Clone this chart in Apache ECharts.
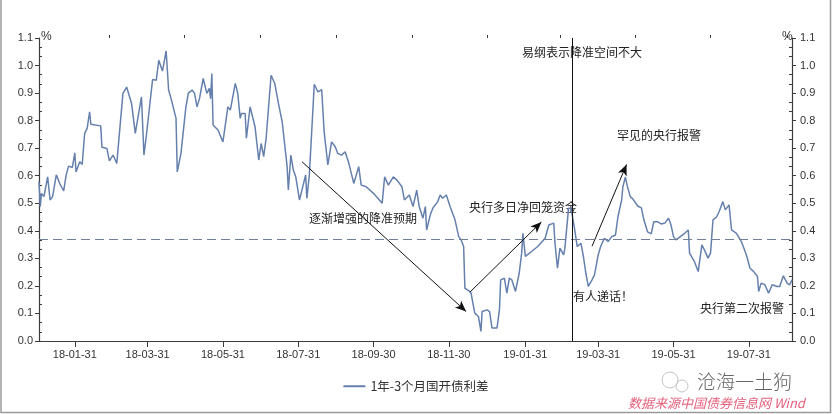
<!DOCTYPE html>
<html>
<head>
<meta charset="utf-8">
<title>1年-3个月国开债利差</title>
<script src="https://cdn.jsdelivr.net/npm/echarts@6.0.0/dist/echarts.min.js"></script>
<style>
html, body { margin: 0; padding: 0; background: #fff; }
#main { width: 832px; height: 414px; }
</style>
</head>
<body>
<div id="main"></div>
<script>
// 日期
var dates = [
  '2018-01-02','2018-01-03','2018-01-04','2018-01-06','2018-01-09','2018-01-11','2018-01-13','2018-01-16','2018-01-19','2018-01-22','2018-01-24','2018-01-26','2018-01-29','2018-01-31',
  '2018-02-01','2018-02-04','2018-02-06','2018-02-08','2018-02-10','2018-02-12','2018-02-13','2018-02-21','2018-02-22','2018-02-26','2018-02-28',
  '2018-03-03','2018-03-06','2018-03-11','2018-03-14','2018-03-18','2018-03-21','2018-03-26','2018-03-28','2018-03-30',
  '2018-04-04','2018-04-07','2018-04-09','2018-04-12','2018-04-15','2018-04-17','2018-04-19','2018-04-23','2018-04-24','2018-04-27',
  '2018-05-01','2018-05-03','2018-05-06','2018-05-08','2018-05-10','2018-05-12','2018-05-15','2018-05-18','2018-05-20','2018-05-21','2018-05-22','2018-05-23','2018-05-27','2018-05-31',
  '2018-06-04','2018-06-06','2018-06-10','2018-06-12','2018-06-14','2018-06-15','2018-06-18','2018-06-19','2018-06-22','2018-06-24','2018-06-26','2018-06-29',
  '2018-07-01','2018-07-03','2018-07-05','2018-07-09','2018-07-12','2018-07-15','2018-07-18','2018-07-22','2018-07-23','2018-07-25','2018-07-27','2018-07-29',
  '2018-08-01','2018-08-04','2018-08-06','2018-08-07','2018-08-09','2018-08-13','2018-08-16','2018-08-19','2018-08-21','2018-08-24','2018-08-27','2018-08-30',
  '2018-09-01','2018-09-04','2018-09-07','2018-09-10','2018-09-14','2018-09-18','2018-09-20','2018-09-24','2018-09-30',
  '2018-10-07','2018-10-09','2018-10-12','2018-10-16','2018-10-19','2018-10-23','2018-10-25','2018-10-29',
  '2018-11-01','2018-11-04','2018-11-06','2018-11-09','2018-11-11','2018-11-12','2018-11-15','2018-11-17','2018-11-21','2018-11-23','2018-11-25','2018-11-28',
  '2018-12-01','2018-12-05','2018-12-08','2018-12-10','2018-12-12','2018-12-13','2018-12-16','2018-12-18','2018-12-21','2018-12-24','2018-12-26','2018-12-27','2018-12-31',
  '2019-01-02','2019-01-04','2019-01-08','2019-01-10','2019-01-11','2019-01-14','2019-01-16','2019-01-18','2019-01-20','2019-01-23','2019-01-26','2019-01-28','2019-01-29','2019-01-31',
  '2019-02-05','2019-02-10','2019-02-16','2019-02-19','2019-02-23','2019-02-24','2019-02-26','2019-02-28',
  '2019-03-03','2019-03-04','2019-03-07','2019-03-09','2019-03-12','2019-03-14','2019-03-17','2019-03-19','2019-03-21','2019-03-23','2019-03-26','2019-03-28','2019-03-31',
  '2019-04-02','2019-04-05','2019-04-08','2019-04-11','2019-04-14','2019-04-16','2019-04-19','2019-04-20','2019-04-22','2019-04-24','2019-04-26','2019-04-28',
  '2019-05-02','2019-05-05','2019-05-07','2019-05-10','2019-05-13','2019-05-15','2019-05-18','2019-05-21','2019-05-24','2019-05-27','2019-05-29','2019-05-31',
  '2019-06-02','2019-06-05','2019-06-09','2019-06-12','2019-06-13','2019-06-17','2019-06-20','2019-06-23','2019-06-25','2019-06-28','2019-06-30',
  '2019-07-02','2019-07-05','2019-07-07','2019-07-10','2019-07-12','2019-07-15','2019-07-17','2019-07-21','2019-07-25','2019-07-29',
  '2019-08-01','2019-08-04','2019-08-07','2019-08-08','2019-08-10','2019-08-13','2019-08-16','2019-08-19','2019-08-23','2019-08-25','2019-08-28','2019-08-31',
  '2019-09-02','2019-09-04'
];
// 1年-3个月国开债利差（%）
var spread = [
  0.578,0.488,0.536,0.524,0.596,0.512,0.524,0.603,0.570,0.545,0.603,0.635,0.630,0.683,
  0.614,0.651,0.641,0.754,0.772,0.832,0.787,0.781,0.703,0.699,0.654,
  0.675,0.645,0.899,0.922,0.862,0.754,0.886,0.675,0.747,
  0.949,0.947,1.019,0.980,1.053,0.911,0.880,0.808,0.614,0.681,
  0.850,0.900,0.911,0.899,0.850,0.880,0.953,0.899,0.917,0.880,0.971,0.784,0.766,0.723,
  0.850,0.838,0.935,0.899,0.808,0.826,0.826,0.736,0.850,0.814,0.778,0.657,
  0.717,0.669,0.736,0.965,0.935,0.862,0.796,0.633,0.548,0.675,0.621,0.596,
  0.512,0.566,0.603,0.518,0.603,0.932,0.904,0.913,0.759,0.639,0.723,0.705,
  0.681,0.675,0.687,0.645,0.572,0.633,0.566,0.560,0.536,
  0.500,0.596,0.566,0.596,0.584,0.560,0.512,0.530,
  0.488,0.548,0.488,0.446,0.488,0.403,0.458,0.482,0.506,0.530,0.518,0.530,
  0.488,0.440,0.379,0.367,0.343,0.192,0.183,0.174,0.101,0.089,0.035,0.107,0.113,
  0.107,0.047,0.047,0.113,0.222,0.228,0.174,0.228,0.222,0.180,0.246,0.319,0.391,0.307,
  0.325,0.343,0.373,0.421,0.428,0.355,0.264,0.337,
  0.313,0.337,0.482,0.482,0.403,0.343,0.355,0.307,0.246,0.198,0.222,0.240,0.313,
  0.343,0.373,0.361,0.379,0.385,0.451,0.512,0.560,0.595,0.555,0.524,0.516,
  0.490,0.483,0.440,0.396,0.389,0.433,0.433,0.425,0.428,0.446,0.421,0.379,
  0.367,0.377,0.391,0.403,0.319,0.288,0.252,0.349,0.331,0.301,0.319,
  0.440,0.451,0.470,0.506,0.476,0.494,0.403,0.391,0.361,0.313,
  0.264,0.252,0.234,0.180,0.210,0.204,0.174,0.204,0.198,0.198,0.237,0.210,
  0.204,0.222
];
var seriesName = '1年-3个月国开债利差';
var meanLevel = 0.366;          // 虚线：均值
var markDate = '2019-03-10';    // 竖线
var xMin = '2018-01-02', xMax = '2019-09-04';
var labelDates = ['2018-01-31','2018-03-31','2018-05-31','2018-07-31','2018-09-30','2018-11-30','2019-01-31','2019-03-31','2019-05-31','2019-07-31'];
var minorDates = ['2018-02-28','2018-04-30','2018-06-30','2018-08-31','2018-10-31','2018-12-31','2019-02-28','2019-04-30','2019-06-30','2019-08-31'];
// 箭头：[起点日期, 起点值, 终点日期, 终点值]
var arrows = [
  ['2018-08-03', 0.651, '2018-12-14', 0.107],
  ['2018-12-17', 0.177, '2019-02-13', 0.432],
  ['2019-03-26', 0.344, '2019-04-23', 0.641]
];

function ts(s) {
  var p = s.split('-');
  return new Date(+p[0], +p[1] - 1, +p[2]).getTime();
}
function fmtDate(v) {
  var d = new Date(v);
  var pad = function (n) { return (n < 10 ? '0' : '') + n; };
  return String(d.getFullYear()).slice(2) + '-' + pad(d.getMonth() + 1) + '-' + pad(d.getDate());
}

var lineData = dates.map(function (d, i) { return [ts(d), spread[i]]; });

var axisColor = '#3c3c3c';
var numFont = 'Liberation Sans';
var cjkFont = '"Noto Sans CJK SC"';

function yAxisMain(pos, margin) {
  return {
    type: 'value', position: pos, min: 0, max: 1.1, interval: 0.1,
    axisLine: { show: true, lineStyle: { color: axisColor, width: 1.2 } },
    axisTick: { show: true, length: 4, lineStyle: { color: axisColor } },
    axisLabel: { margin: margin, fontSize: 11, color: '#333', fontFamily: numFont,
      formatter: function (v) { return v.toFixed(1); } },
    splitLine: { show: false }
  };
}
function yAxisMinor(pos) {
  return {
    type: 'value', position: pos, min: 0, max: 1.1, interval: 0.1,
    axisLine: { show: false },
    axisTick: { show: false, inside: true },
    minorTick: { show: true, splitNumber: 3, length: 3, lineStyle: { color: axisColor } },
    axisLabel: { show: false },
    splitLine: { show: false }
  };
}

var arrowLines = arrows.map(function (a) {
  return [
    { coord: [ts(a[0]), a[1]], symbol: 'none' },
    { coord: [ts(a[2]), a[3]], symbol: 'arrow', symbolSize: [7, 11] }
  ];
});

var myChart = echarts.init(document.getElementById('main'));
myChart.setOption({
  animation: false,
  backgroundColor: '#fff',
  grid: { left: 39, right: 40, top: 38, bottom: 73 },
  legend: {
    data: [seriesName],
    left: 'center', top: 375,
    icon: 'rect', itemWidth: 22, itemHeight: 2, itemGap: 10,
    textStyle: { fontSize: 12.5, color: '#333', fontFamily: cjkFont }
  },
  xAxis: [
    {
      type: 'value', min: ts(xMin), max: ts(xMax),
      axisLine: { show: true, onZero: false, lineStyle: { color: axisColor, width: 1.2 } },
      axisTick: { show: true, length: 6, customValues: labelDates.map(ts), lineStyle: { color: axisColor } },
      axisLabel: { customValues: labelDates.map(ts), formatter: fmtDate, margin: 8,
        fontSize: 11, color: '#333', fontFamily: numFont },
      splitLine: { show: false }
    },
    {
      type: 'value', min: ts(xMin), max: ts(xMax),
      axisLine: { show: false, onZero: false },
      axisTick: { show: true, length: 3, customValues: minorDates.map(ts), lineStyle: { color: axisColor } },
      axisLabel: { show: false },
      splitLine: { show: false }
    }
  ],
  yAxis: [yAxisMain('left', 6), yAxisMinor('left'), yAxisMain('right', 8), yAxisMinor('right')],
  series: [{
    name: seriesName,
    type: 'line',
    xAxisIndex: 0, yAxisIndex: 0,
    data: lineData,
    showSymbol: false,
    symbol: 'none',
    lineStyle: { color: '#6580ad', width: 1.5 },
    itemStyle: { color: '#6580ad' },
    markLine: {
      silent: true,
      animation: false,
      symbol: ['none', 'none'],
      label: { show: false },
      lineStyle: { color: '#111', width: 1, type: 'solid' },
      data: [
        { yAxis: meanLevel, lineStyle: { type: [9, 5], color: '#6f7f98', width: 1.2 } },
        { xAxis: ts(markDate), lineStyle: { type: 'solid', color: '#111', width: 1 } }
      ].concat(arrowLines)
    }
  }],
  graphic: [
    { type: 'polyline', silent: true, shape: { points: [[1, 0], [1, 412.5], [830.5, 412.5], [830.5, 0]] },
      style: { fill: 'none', stroke: '#9a9a9a', lineWidth: 1.5 } },
    { type: 'text', x: 41, y: 37, style: { text: '%', font: '12px ' + numFont, fill: '#333', verticalAlign: 'middle' } },
    { type: 'text', x: 782, y: 37, style: { text: '%', font: '12px ' + numFont, fill: '#333', verticalAlign: 'middle' } },
    { type: 'text', x: 522, y: 52, style: { text: '易纲表示降准空间不大', font: '12px ' + cjkFont, fill: '#222', verticalAlign: 'middle' } },
    { type: 'text', x: 617, y: 135, style: { text: '罕见的央行报警', font: '12px ' + cjkFont, fill: '#222', verticalAlign: 'middle' } },
    { type: 'text', x: 309, y: 218, style: { text: '逐渐增强的降准预期', font: '12px ' + cjkFont, fill: '#222', verticalAlign: 'middle' } },
    { type: 'text', x: 469, y: 207, style: { text: '央行多日净回笼资金', font: '12px ' + cjkFont, fill: '#222', verticalAlign: 'middle' } },
    { type: 'text', x: 573, y: 296, style: { text: '有人递话！', font: '12px ' + cjkFont, fill: '#222', verticalAlign: 'middle' } },
    { type: 'text', x: 700, y: 308, style: { text: '央行第二次报警', font: '12px ' + cjkFont, fill: '#222', verticalAlign: 'middle' } },
    // 水印
    { type: 'circle', silent: true, shape: { cx: 670, cy: 380, r: 8 }, style: { fill: 'none', stroke: '#c4c4c4', lineWidth: 1 } },
    { type: 'circle', silent: true, shape: { cx: 682, cy: 386, r: 6 }, style: { fill: 'none', stroke: '#c4c4c4', lineWidth: 1 } },
    { type: 'text', x: 697, y: 382, style: { text: '沧海一土狗', font: '300 19px ' + cjkFont, fill: '#666', verticalAlign: 'middle' } },
    { type: 'text', x: 628, y: 403, style: { text: '数据来源中国债券信息网 Wind', font: 'italic 13px ' + cjkFont, fill: '#e4607c', verticalAlign: 'middle' } }
  ]
});
</script>
</body>
</html>
